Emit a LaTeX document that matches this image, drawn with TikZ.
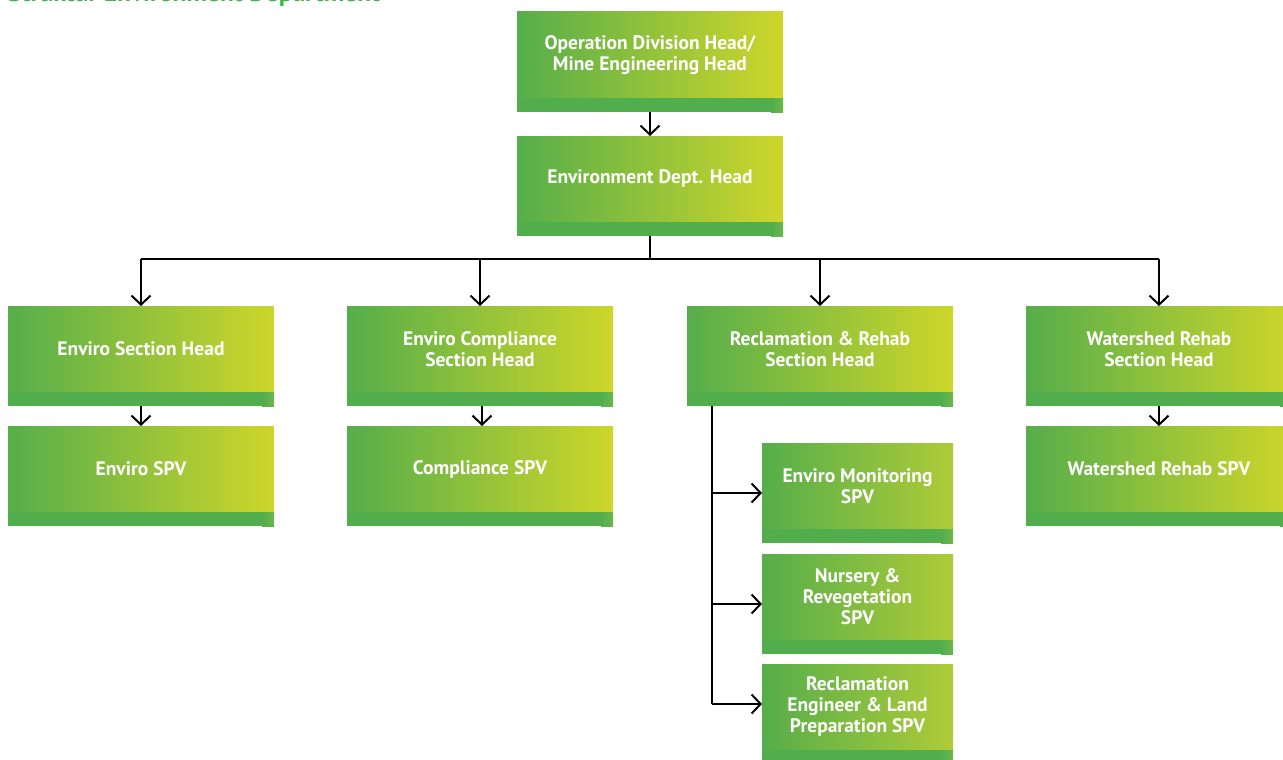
\documentclass[tikz,border=0pt]{standalone}
\usepackage{fontspec}
\setmainfont{PT Sans}
\usetikzlibrary{arrows.meta}
\definecolor{gL}{HTML}{56AE4B}
\definecolor{gR}{HTML}{CED62A}
\definecolor{gM}{HTML}{AECB37}
\definecolor{bandc}{HTML}{52AD4D}
\definecolor{bandR}{HTML}{6DB84A}
\definecolor{ttl}{HTML}{3DB54A}
\begin{document}
\begin{tikzpicture}[x=1pt,y=-1pt,
 box/.style={minimum width=266pt, minimum height=86pt, inner sep=0pt, outer sep=0pt,
   left color=gL, right color=gR, text=white,
   font=\bfseries\fontsize{19.5}{21}\selectfont, align=center},
 subbox/.style={box, minimum width=191pt, right color=gM},
 conn/.style={line width=2pt, draw=black},
 arr/.style={conn, -{Straight Barb[length=9pt,width=19pt]}}]
\useasboundingbox (0,0) rectangle (1283,760);

\node[anchor=base west, text=ttl, font=\bfseries\fontsize{25.5}{28}\selectfont, inner sep=0pt] (title) at (8,2) {Struktur Environment Department};

\node[box] (t1) at (650,55) {Operation Division Head/\\Mine Engineering Head};
\node[box] (t2) at (650,179) {Environment Dept. Head};

\node[box] (a1) at (141,349) {Enviro Section Head};
\node[box] (b1) at (480,349) {Enviro Compliance\\Section Head};
\node[box] (c1) at (820,349) {Reclamation \& Rehab\\Section Head};
\node[box] (d1) at (1159,349) {Watershed Rehab\\Section Head};

\node[box] (a2) at (141,469) {Enviro SPV};
\node[box] (b2) at (480,469) {Compliance SPV};
\node[box] (d2) at (1159,469) {Watershed Rehab SPV};

\node[subbox] (s1) at (857.5,486) {Enviro Monitoring\\SPV};
\node[subbox] (s2) at (857.5,597) {Nursery \&\\Revegetation\\SPV};
\node[subbox] (s3) at (857.5,707) {Reclamation\\Engineer \& Land\\Preparation SPV};

\foreach \n in {t1,t2,a1,b1,c1,d1,a2,b2,d2,s1,s2,s3} {
  \fill[bandc] (\n.south west) rectangle ([yshift=-14pt]\n.south east);
  \shade[left color=bandc, right color=bandR] ([xshift=-12pt]\n.south east) rectangle ([yshift=-14pt]\n.south east);
}

\draw[arr] ([yshift=-14pt]t1.south) -- (t2.north);
\coordinate (bus) at (650,259);
\draw[conn] ([yshift=-14pt]t2.south) -- (bus);
\draw[conn] (a1.north |- bus) -- (d1.north |- bus);
\foreach \n in {a1,b1,c1,d1} \draw[arr] (\n.north |- bus) -- (\n.north);

\draw[arr] ([yshift=-14pt]a1.south) -- (a2.north);
\draw[arr] ([xshift=2pt,yshift=-14pt]b1.south) -- ([xshift=2pt]b2.north);
\draw[arr] ([yshift=-14pt]d1.south) -- (d2.north);

\coordinate (sp) at ([xshift=25pt,yshift=-14pt]c1.south west);
\draw[conn] (sp) -- ([yshift=3pt]sp |- s3.west);
\draw[arr] ([yshift=-7pt]sp |- s1.west) -- ([yshift=-7pt]s1.west);
\draw[arr] ([yshift=-7pt]sp |- s2.west) -- ([yshift=-7pt]s2.west);
\draw[arr] ([yshift=3pt]sp |- s3.west) -- ([yshift=3pt]s3.west);
\end{tikzpicture}
\end{document}
